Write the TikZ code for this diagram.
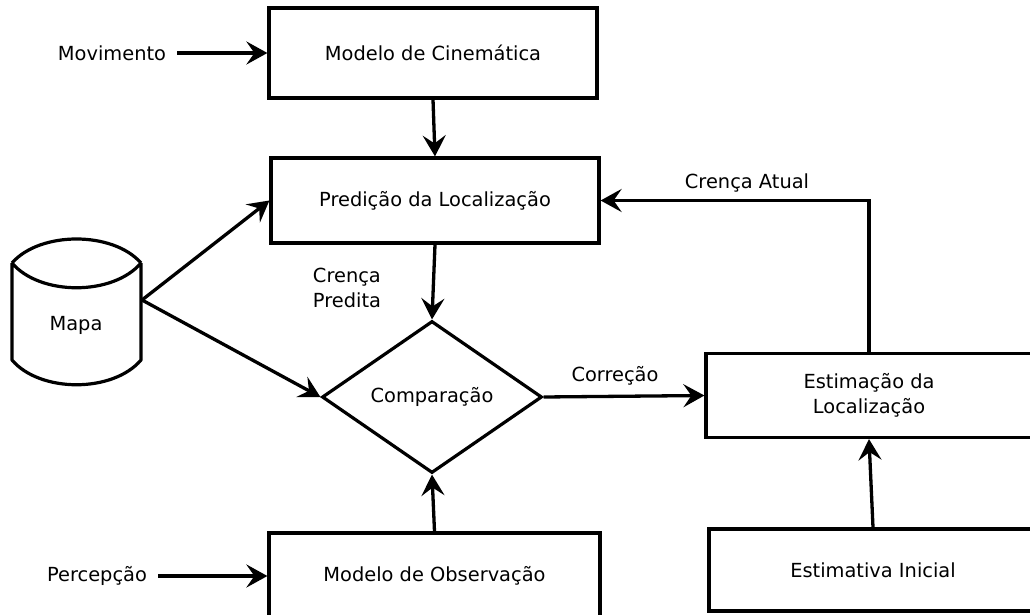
\documentclass[tikz,border=0pt]{standalone}
\usepackage{fontspec}
\setmainfont{DejaVu Sans}
\usetikzlibrary{arrows.meta,shapes.geometric}

\begin{document}
\begin{tikzpicture}[x=1pt,y=-1pt,
  every node/.style={font=\fontsize{19.4}{25}\selectfont},
  block/.style={draw,line width=3.2pt,inner sep=0pt,align=center},
  label/.style={inner sep=0pt,align=left},
  flow/.style={line width=3.3pt,-{Stealth[length=21pt,width=23pt,inset=8pt]}}
]
\useasboundingbox (0,0) rectangle (1030,615);

% processing blocks
\node[block,minimum width=328pt,minimum height=90pt] (cin) at (433,53) {Modelo de Cinemática};
\node[block,minimum width=328pt,minimum height=85pt] (pred) at (435,200.5) {Predição da Localização};
\node[block,minimum width=326pt,minimum height=84pt] (est) at (869,395.5) {Estimação da\\Localização};
\node[block,minimum width=328pt,minimum height=82pt] (ini) at (873,570) {Estimativa Inicial};
\node[block,minimum width=331pt,minimum height=86pt] (obs) at (434.5,576) {Modelo de Observação};

% decision
\node[draw,diamond,line width=3.2pt,inner sep=0pt,minimum width=220pt,minimum height=152pt] (cmp) at (432,397) {Comparação};

% map store (cylinder)
\draw[line width=3.2pt,line join=round]
  (12,263) .. controls (40,231) and (113,231) .. (141,263)
  (12,263) .. controls (40,296) and (113,296) .. (141,263)
  (12,263) -- (12,360) .. controls (40,393) and (113,393) .. (141,360) -- (141,263);
\node (mapa) at (76,325) {Mapa};
\coordinate (mapOut) at (142,300);

% inputs and labels
\node[label] (mov) at (112,53) {Movimento};
\node[label] (per) at (97,576) {Percepção};
\node[label] (cpred) at (347,288) {Crença\\Predita};
\node[label] (corr) at (615,376) {Correção};
\node[label] (catual) at (747,183) {Crença Atual};

% connectors
\draw[flow] ([xshift=11pt]mov.east) -- (cin.west);
\draw[flow] (cin.south) -- (pred.north);
\draw[flow] (mapOut) -- (pred.west);
\draw[flow] (mapOut) -- (cmp.west);
\draw[flow] (pred.south) -- (cmp.north);
\draw[flow] (cmp.east) -- (est.west);
\draw[flow] (est.north) |- (pred.east);
\draw[flow] (ini.north) -- (est.south);
\draw[flow] (obs.north) -- (cmp.south);
\draw[flow] ([xshift=11pt]per.east) -- (obs.west);
\end{tikzpicture}
\end{document}
